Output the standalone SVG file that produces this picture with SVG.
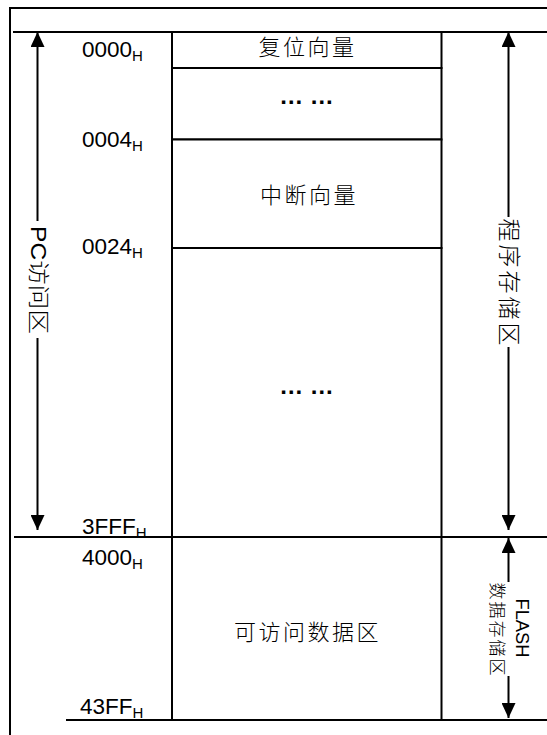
<svg xmlns="http://www.w3.org/2000/svg" width="547" height="735" viewBox="0 0 547 735">
<style>
.ln{stroke:#000;stroke-width:2;fill:none}
.box{stroke:#000;stroke-width:2;fill:#fff}
.num{font-family:"Liberation Sans",Arial,sans-serif;font-size:22.5px;fill:#000}
.sub{font-size:15px}
.cn{font-family:"Liberation Sans","Noto Sans CJK SC",sans-serif;font-size:22px;font-weight:300;fill:#000;letter-spacing:2.5px}
.dots{font-family:"Liberation Sans",Arial,sans-serif;font-size:24px;font-weight:bold;fill:#000}
.rot{font-family:"Liberation Sans","Noto Sans CJK SC",sans-serif;font-weight:300;fill:#000;dominant-baseline:central;text-anchor:middle}
</style>
<defs>
<marker id="ah" markerUnits="userSpaceOnUse" markerWidth="15" markerHeight="14" refX="15" refY="7" orient="auto" viewBox="0 0 15 14">
<path d="M0,0 L15,7 L0,14 z" fill="#000"/>
</marker>
</defs>
<rect x="0" y="0" width="547" height="735" fill="#fff"/>
<g id="frame">
<rect class="ln" x="10" y="8" width="580" height="780"/>
<line class="ln" x1="13" y1="32" x2="547" y2="32"/>
<line class="ln" x1="14" y1="537" x2="547" y2="537"/>
<line class="ln" x1="66" y1="720" x2="547" y2="720"/>
</g>
<g id="reset">
<rect class="box" x="172" y="32" width="269.5" height="36"/>
<text class="cn" x="307.5" y="55" text-anchor="middle">复位向量</text>
</g>
<g id="gap1">
<rect class="box" x="172" y="68" width="269.5" height="71.5"/>
<text class="dots" x="306.5" y="104" text-anchor="middle">… …</text>
</g>
<g id="interrupt">
<rect class="box" x="172" y="139.5" width="269.5" height="108.5"/>
<text class="cn" x="309" y="203" text-anchor="middle">中断向量</text>
</g>
<g id="gap2">
<rect class="box" x="172" y="248" width="269.5" height="289"/>
<text class="dots" x="306.5" y="394" text-anchor="middle">… …</text>
</g>
<g id="data">
<rect class="box" x="172" y="537" width="269.5" height="183"/>
<text class="cn" x="307.5" y="640" text-anchor="middle">可访问数据区</text>
</g>
<g id="addresses">
<text class="num" x="82" y="57">0000<tspan class="sub" dy="4">H</tspan></text>
<text class="num" x="82" y="147">0004<tspan class="sub" dy="4">H</tspan></text>
<text class="num" x="82" y="254">0024<tspan class="sub" dy="4">H</tspan></text>
<text class="num" x="82" y="534">3FFF<tspan class="sub" dy="4">H</tspan></text>
<text class="num" x="82" y="565">4000<tspan class="sub" dy="4">H</tspan></text>
<text class="num" x="80" y="714">43FF<tspan class="sub" dy="4">H</tspan></text>
</g>
<g id="connectors">
<line class="ln" x1="37.5" y1="221" x2="37.5" y2="32" marker-end="url(#ah)"/>
<line class="ln" x1="37.5" y1="338" x2="37.5" y2="530" marker-end="url(#ah)"/>
<line class="ln" x1="508.5" y1="217" x2="508.5" y2="32" marker-end="url(#ah)"/>
<line class="ln" x1="508.5" y1="347" x2="508.5" y2="530" marker-end="url(#ah)"/>
<line class="ln" x1="508.5" y1="582" x2="508.5" y2="538" marker-end="url(#ah)"/>
<line class="ln" x1="508.5" y1="676" x2="508.5" y2="718" marker-end="url(#ah)"/>
</g>
<g id="labels">
<text class="rot" font-size="22" transform="translate(38.5,280) rotate(90)" textLength="108" lengthAdjust="spacingAndGlyphs">PC访问区</text>
<text class="rot" font-size="23" transform="translate(509,282) rotate(90)" textLength="127" lengthAdjust="spacing">程序存储区</text>
<text class="rot" font-size="18" transform="translate(521.5,628) rotate(90)" textLength="59" lengthAdjust="spacingAndGlyphs">FLASH</text>
<text class="rot" font-size="17" transform="translate(496.5,629) rotate(90)" textLength="93" lengthAdjust="spacing">数据存储区</text>
</g>
</svg>
